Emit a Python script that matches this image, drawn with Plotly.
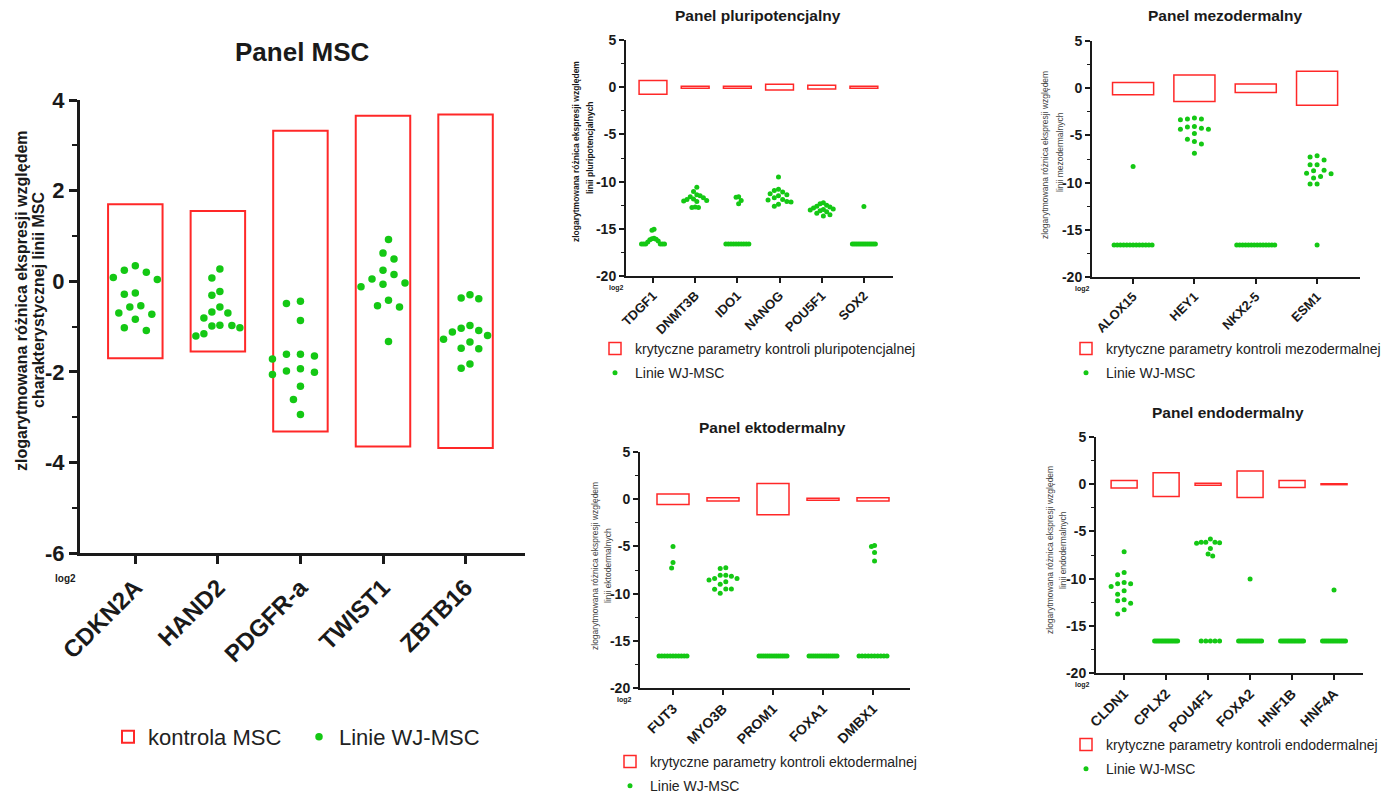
import numpy as np
import plotly.graph_objects as go

W, H = 1388, 798
FONT = "Liberation Sans, Arial, sans-serif"
RED = "rgb(255,40,40)"
GREEN = "rgb(20,200,20)"
INK = "#1a1a1a"

# ---------------- DATA ----------------
# Panel MSC
msc_genes = ["CDKN2A", "HAND2", "PDGFR-a", "TWIST1", "ZBTB16"]
msc_upper = [1.70, 1.55, 3.32, 3.65, 3.68]
msc_lower = [-1.70, -1.55, -3.32, -3.65, -3.68]
msc_cdkn2a = [0.24, -0.29, -0.73, -1.09, 0.34, 0.04, -0.26, -0.57, 0.08, -0.70, -1.03, 0.20, -0.54, -0.84]
msc_hand2 = [-0.81, -1.16, -0.57, -0.97, 0.27, -0.31, -0.70, -1.03, 0.07, -0.23, -0.98, -1.21, -0.68, -0.99]
msc_pdgfra = [-1.72, -2.06, -0.49, -1.61, -1.93, -2.32, -0.87, -2.61, -2.94, -0.44, -1.61, -2.01, -1.65, -1.98]
msc_twist1 = [0.24, -0.12, 0.05, -0.54, 0.92, 0.49, 0.15, -0.42, -1.33, 0.62, -0.07, -0.57, -0.04]
msc_zbtb16 = [-1.34, -1.04, -0.39, -1.20, -1.49, -1.92, -0.37, -1.12, -1.48, -1.83, -0.30, -0.98, -1.28, -1.09]

# Panel pluripotencjalny
pluri_genes = ["TDGF1", "DNMT3B", "IDO1", "NANOG", "POU5F1", "SOX2"]
pluri_upper = [0.70, 0.10, 0.10, 0.30, 0.20, 0.10]
pluri_lower = [-0.75, -0.10, -0.10, -0.30, -0.20, -0.10]
pluri_tdgf1 = [-15.05, -15.15, -16.0, -16.05, -16.1, -16.15, -16.3, -16.4, -16.6, -16.6, -16.6, -16.6, -16.6, -16.6]
pluri_dnmt3b = [-10.6, -11.05, -11.4, -11.5, -11.6, -11.85, -11.9, -12.0, -12.05, -12.1, -12.7, -12.75, -12.75, -11.7]
pluri_ido1 = [-11.6, -11.65, -12.0, -12.35, -16.6, -16.6, -16.6, -16.6, -16.6, -16.6, -16.6, -16.6, -16.6, -16.6]
pluri_nanog = [-9.5, -10.8, -10.95, -11.3, -11.4, -11.5, -11.9, -11.95, -12.1, -12.15, -12.4, -12.6, -11.1, -11.7]
pluri_pou5f1 = [-12.25, -12.35, -12.5, -12.6, -12.7, -12.8, -12.9, -13.0, -13.1, -13.2, -13.35, -13.5, -13.65, -12.95]
pluri_sox2 = [-12.65, -16.6, -16.6, -16.6, -16.6, -16.6, -16.6, -16.6, -16.6, -16.6, -16.6, -16.6, -16.6, -16.6]

# Panel mezodermalny
mezo_genes = ["ALOX15", "HEY1", "NKX2-5", "ESM1"]
mezo_upper = [0.60, 1.40, 0.45, 1.80]
mezo_lower = [-0.70, -1.40, -0.45, -1.80]
mezo_alox15 = [-8.3, -16.6, -16.6, -16.6, -16.6, -16.6, -16.6, -16.6, -16.6, -16.6, -16.6, -16.6, -16.6, -16.6]
mezo_hey1 = [-3.15, -3.25, -3.25, -3.35, -4.05, -4.1, -4.25, -4.35, -4.35, -4.8, -5.4, -5.65, -5.9, -6.9]
mezo_nkx25 = [-16.6, -16.6, -16.6, -16.6, -16.6, -16.6, -16.6, -16.6, -16.6, -16.6, -16.6, -16.6, -16.6, -16.6]
mezo_esm1 = [-7.15, -7.3, -7.6, -8.1, -8.1, -8.7, -8.75, -9.0, -9.05, -9.35, -9.5, -10.15, -10.15, -16.6]

# Panel ektodermalny
ekto_genes = ["FUT3", "MYO3B", "PROM1", "FOXA1", "DMBX1"]
ekto_upper = [0.55, 0.15, 1.65, 0.10, 0.15]
ekto_lower = [-0.55, -0.20, -1.65, -0.10, -0.20]
ekto_fut3 = [-5.0, -6.7, -7.3, -16.6, -16.6, -16.6, -16.6, -16.6, -16.6, -16.6, -16.6, -16.6, -16.6, -16.6]
ekto_myo3b = [-7.25, -7.35, -8.05, -8.05, -8.15, -8.4, -8.4, -8.55, -8.75, -9.0, -9.5, -9.5, -9.55, -9.95]
ekto_prom1 = [-16.6, -16.6, -16.6, -16.6, -16.6, -16.6, -16.6, -16.6, -16.6, -16.6, -16.6, -16.6, -16.6, -16.6]
ekto_foxa1 = [-16.6, -16.6, -16.6, -16.6, -16.6, -16.6, -16.6, -16.6, -16.6, -16.6, -16.6, -16.6, -16.6, -16.6]
ekto_dmbx1 = [-4.9, -5.0, -5.65, -6.55, -16.6, -16.6, -16.6, -16.6, -16.6, -16.6, -16.6, -16.6, -16.6, -16.6]

# Panel endodermalny
endo_genes = ["CLDN1", "CPLX2", "POU4F1", "FOXA2", "HNF1B", "HNF4A"]
endo_upper = [0.40, 1.20, 0.10, 1.40, 0.40, 0.05]
endo_lower = [-0.40, -1.30, -0.10, -1.40, -0.35, -0.05]
endo_cldn1 = [-7.15, -9.35, -9.6, -10.4, -10.55, -10.55, -10.85, -11.3, -11.65, -12.25, -12.35, -12.6, -13.3, -13.75]
endo_cplx2 = [-16.6, -16.6, -16.6, -16.6, -16.6, -16.6, -16.6, -16.6, -16.6, -16.6, -16.6, -16.6, -16.6, -16.6]
endo_pou4f1 = [-5.8, -6.15, -6.15, -6.15, -6.2, -6.25, -6.8, -7.4, -7.6, -16.6, -16.6, -16.6, -16.6, -16.6]
endo_foxa2 = [-10.05, -16.6, -16.6, -16.6, -16.6, -16.6, -16.6, -16.6, -16.6, -16.6, -16.6, -16.6, -16.6, -16.6]
endo_hnf1b = [-16.6, -16.6, -16.6, -16.6, -16.6, -16.6, -16.6, -16.6, -16.6, -16.6, -16.6, -16.6, -16.6, -16.6]
endo_hnf4a = [-11.2, -16.6, -16.6, -16.6, -16.6, -16.6, -16.6, -16.6, -16.6, -16.6, -16.6, -16.6, -16.6, -16.6]

# ---------------- LAYOUT HELPERS ----------------
def px2x(p):
    return p / W


def py2y(p):
    return 1 - p / H


def swarm(vals, ppu_y, ppc, d, step, max_w):
    """Beeswarm offsets (in category units) for one column of values."""
    vals = np.asarray(vals, dtype=float)
    order = np.argsort(-vals, kind="stable")
    placed = []
    offs = np.zeros(len(vals))
    cands = [0.0]
    for j in range(1, 60):
        cands += [-j * step, j * step]
    for i in order:
        y = vals[i] * ppu_y
        for c in cands:
            if all((c - px) ** 2 + (y - py) ** 2 >= d * d for px, py in placed):
                break
        placed.append((c, y))
        offs[i] = c
    width = offs.max() - offs.min()
    if width > max_w:
        mid = (offs.max() + offs.min()) / 2
        offs = (offs - mid) * max_w / width
    return offs / ppc


panels = [
    dict(ax="", leg="legend", genes=msc_genes, upper=msc_upper, lower=msc_lower,
         values=[msc_cdkn2a, msc_hand2, msc_pdgfra, msc_twist1, msc_zbtb16],
         xpx=(80, 525), ypx=(100, 553), xr=(-0.67, 4.72), yr=(-6, 4),
         ytv=[-6, -4, -2, 0, 2, 4], minor=1, boxw=0.66,
         box_name="kontrola MSC", dot=7.5, d=14, maxw=44,
         lw=3, boxlw=2, tickfs=22, xtickfs=24, ticklen=8, mticklen=5,
         xtitle="Panel MSC", title_xy=(302, 52), title_fs=26,
         ylines=[("zlogarytmowana różnica ekspresji względem", 21, 301),
                 ("charakterystycznej linii MSC", 38, 300)],
         yfs=16, ybold=True, ycol=INK, log2=(65, 578, 10)),
    dict(ax="2", leg="legend2", genes=pluri_genes, upper=pluri_upper, lower=pluri_lower,
         values=[pluri_tdgf1, pluri_dnmt3b, pluri_ido1, pluri_nanog, pluri_pou5f1, pluri_sox2],
         xpx=(626, 893), ypx=(40, 276), xr=(-0.64, 5.69), yr=(-20, 5),
         ytv=[-20, -15, -10, -5, 0, 5], minor=2.5, boxw=0.66,
         box_name="krytyczne parametry kontroli pluripotencjalnej", dot=5, d=6.5, maxw=23,
         lw=2, boxlw=1.5, tickfs=14, xtickfs=13, ticklen=5, mticklen=3,
         xtitle="Panel pluripotencjalny", title_xy=(758, 15), title_fs=15.5,
         ylines=[("zlogarytmowana różnica ekspresji względem", 576, 152),
                 ("linii pluripotencjalnych", 590, 148)],
         yfs=8.5, ybold=True, ycol=INK, log2=(616, 288, 7)),
    dict(ax="3", leg="legend3", genes=mezo_genes, upper=mezo_upper, lower=mezo_lower,
         values=[mezo_alox15, mezo_hey1, mezo_nkx25, mezo_esm1],
         xpx=(1092, 1360), ypx=(41, 277), xr=(-0.67, 3.7), yr=(-20, 5),
         ytv=[-20, -15, -10, -5, 0, 5], minor=2.5, boxw=0.67,
         box_name="krytyczne parametry kontroli mezodermalnej", dot=5, d=7, maxw=38,
         lw=2, boxlw=1.5, tickfs=14, xtickfs=13, ticklen=5, mticklen=3,
         xtitle="Panel mezodermalny", title_xy=(1225, 15), title_fs=15.5,
         ylines=[("zlogarytmowana różnica ekspresji względem", 1045, 155),
                 ("linii mezodermalnych", 1060, 152)],
         yfs=8.5, ybold=False, ycol="#444", log2=(1082, 289, 7)),
    dict(ax="4", leg="legend4", genes=ekto_genes, upper=ekto_upper, lower=ekto_lower,
         values=[ekto_fut3, ekto_myo3b, ekto_prom1, ekto_foxa1, ekto_dmbx1],
         xpx=(640, 910), ypx=(452, 688), xr=(-0.66, 4.74), yr=(-20, 5),
         ytv=[-20, -15, -10, -5, 0, 5], minor=2.5, boxw=0.64,
         box_name="krytyczne parametry kontroli ektodermalnej", dot=5, d=6.5, maxw=28,
         lw=2, boxlw=1.5, tickfs=14, xtickfs=14, ticklen=5, mticklen=3,
         xtitle="Panel ektodermalny", title_xy=(772, 427), title_fs=15.5,
         ylines=[("zlogarytmowana różnica ekspresji względem", 595, 566),
                 ("linii ektodermalnych", 608, 566)],
         yfs=8.5, ybold=False, ycol="#444", log2=(624, 700, 7)),
    dict(ax="5", leg="legend5", genes=endo_genes, upper=endo_upper, lower=endo_lower,
         values=[endo_cldn1, endo_cplx2, endo_pou4f1, endo_foxa2, endo_hnf1b, endo_hnf4a],
         xpx=(1096, 1363), ypx=(437, 673), xr=(-0.67, 5.69), yr=(-20, 5),
         ytv=[-20, -15, -10, -5, 0, 5], minor=2.5, boxw=0.62,
         box_name="krytyczne parametry kontroli endodermalnej", dot=5, d=6.5, maxw=23,
         lw=2, boxlw=1.5, tickfs=14, xtickfs=14, ticklen=5, mticklen=3,
         xtitle="Panel endodermalny", title_xy=(1228, 412), title_fs=15.5,
         ylines=[("zlogarytmowana różnica ekspresji względem", 1050, 550),
                 ("linii endodermalnych", 1063, 550)],
         yfs=8.5, ybold=False, ycol="#444", log2=(1082, 685, 7)),
]

legend_pos = {
    "legend": dict(x=px2x(108), y=py2y(716), orientation="h", font=dict(size=22),
                   tracegroupgap=0, entrywidth=146),
    "legend2": dict(x=px2x(595), y=py2y(333), orientation="v", font=dict(size=14), tracegroupgap=3),
    "legend3": dict(x=px2x(1066), y=py2y(333), orientation="v", font=dict(size=14), tracegroupgap=3),
    "legend4": dict(x=px2x(610), y=py2y(746), orientation="v", font=dict(size=14), tracegroupgap=3),
    "legend5": dict(x=px2x(1066), y=py2y(729), orientation="v", font=dict(size=14), tracegroupgap=3),
}

fig = go.Figure()
annotations = []
layout = dict(
    width=W, height=H, autosize=False,
    margin=dict(l=0, r=0, t=0, b=0, pad=0, autoexpand=False),
    paper_bgcolor="white", plot_bgcolor="white",
    font=dict(family=FONT, color=INK),
    showlegend=True, barmode="overlay",
)

for p in panels:
    ax = p["ax"]
    xa, ya = "x" + ax, "y" + ax
    n = len(p["genes"])
    idx = np.arange(n)
    ppu_y = (p["ypx"][1] - p["ypx"][0]) / (p["yr"][1] - p["yr"][0])
    ppc = (p["xpx"][1] - p["xpx"][0]) / (p["xr"][1] - p["xr"][0])

    upper = np.array(p["upper"])
    lower = np.array(p["lower"])
    fig.add_trace(go.Bar(
        x=idx, y=upper - lower, base=lower, width=p["boxw"],
        marker=dict(color="rgba(0,0,0,0)", line=dict(color=RED, width=p["boxlw"])),
        name=p["box_name"], legend=p["leg"], legendgroup=p["leg"] + "a",
        xaxis=xa, yaxis=ya, hoverinfo="skip",
    ))
    xs, ys = [], []
    for i, vals in enumerate(p["values"]):
        offs = swarm(vals, ppu_y, ppc, p["d"], p["d"] / 2, p["maxw"])
        xs.extend(list(i + offs))
        ys.extend(vals)
    fig.add_trace(go.Scatter(
        x=xs, y=ys, mode="markers",
        marker=dict(color=GREEN, size=p["dot"], line=dict(width=0)),
        name="Linie WJ-MSC", legend=p["leg"], legendgroup=p["leg"] + "b",
        xaxis=xa, yaxis=ya, cliponaxis=False, hoverinfo="skip",
    ))

    xkey = "xaxis" + ax
    ykey = "yaxis" + ax
    layout[xkey] = dict(
        domain=[px2x(p["xpx"][0]), px2x(p["xpx"][1])], range=list(p["xr"]),
        anchor=ya, tickmode="array", tickvals=list(idx), ticktext=p["genes"],
        tickangle=-45, tickfont=dict(size=p["xtickfs"], family=FONT, color=INK, weight="bold"),
        showline=True, linecolor=INK, linewidth=p["lw"], ticks="outside",
        ticklen=p["ticklen"], tickwidth=p["lw"], tickcolor=INK,
        showgrid=False, zeroline=False, fixedrange=True, automargin=False,
    )
    layout[ykey] = dict(
        domain=[py2y(p["ypx"][1]), py2y(p["ypx"][0])], range=list(p["yr"]),
        anchor=xa, tickmode="array", tickvals=p["ytv"], ticktext=[str(v) for v in p["ytv"]],
        tickfont=dict(size=p["tickfs"], family=FONT, color=INK, weight="bold"),
        showline=True, linecolor=INK, linewidth=p["lw"], ticks="outside",
        ticklen=p["ticklen"], tickwidth=p["lw"], tickcolor=INK,
        minor=dict(dtick=p["minor"], tick0=0, ticks="outside", ticklen=p["mticklen"],
                   tickwidth=max(1, p["lw"] - 1), tickcolor=INK, showgrid=False),
        showgrid=False, zeroline=False, fixedrange=True, automargin=False,
    )

    lp = dict(legend_pos[p["leg"]])
    lp.update(xanchor="left", yanchor="top", bgcolor="rgba(0,0,0,0)",
              itemclick=False, itemdoubleclick=False)
    lp["font"] = dict(size=lp["font"]["size"], family=FONT, color="#222")
    layout[p["leg"]] = lp

    tx, ty = p["title_xy"]
    annotations.append(dict(
        text=p["xtitle"], x=px2x(tx), y=py2y(ty), xref="paper", yref="paper",
        showarrow=False, xanchor="center", yanchor="middle",
        font=dict(size=p["title_fs"], family=FONT, color=INK, weight="bold"),
    ))
    for text, lx, ly in p["ylines"]:
        annotations.append(dict(
            text=text, x=px2x(lx), y=py2y(ly), xref="paper", yref="paper",
            showarrow=False, xanchor="center", yanchor="middle", textangle=-90,
            font=dict(size=p["yfs"], family=FONT, color=p["ycol"],
                      weight="bold" if p["ybold"] else "normal"),
        ))
    gx, gy, gfs = p["log2"]
    annotations.append(dict(
        text="log2", x=px2x(gx), y=py2y(gy), xref="paper", yref="paper",
        showarrow=False, xanchor="center", yanchor="middle",
        font=dict(size=gfs, family=FONT, color=INK, weight="bold"),
    ))

layout["annotations"] = annotations
fig.update_layout(**layout)
fig.write_html(
    "out.html",
    config={"displayModeBar": False, "responsive": False},
    post_script="document.body.style.margin='0';document.body.style.overflow='hidden';",
)
